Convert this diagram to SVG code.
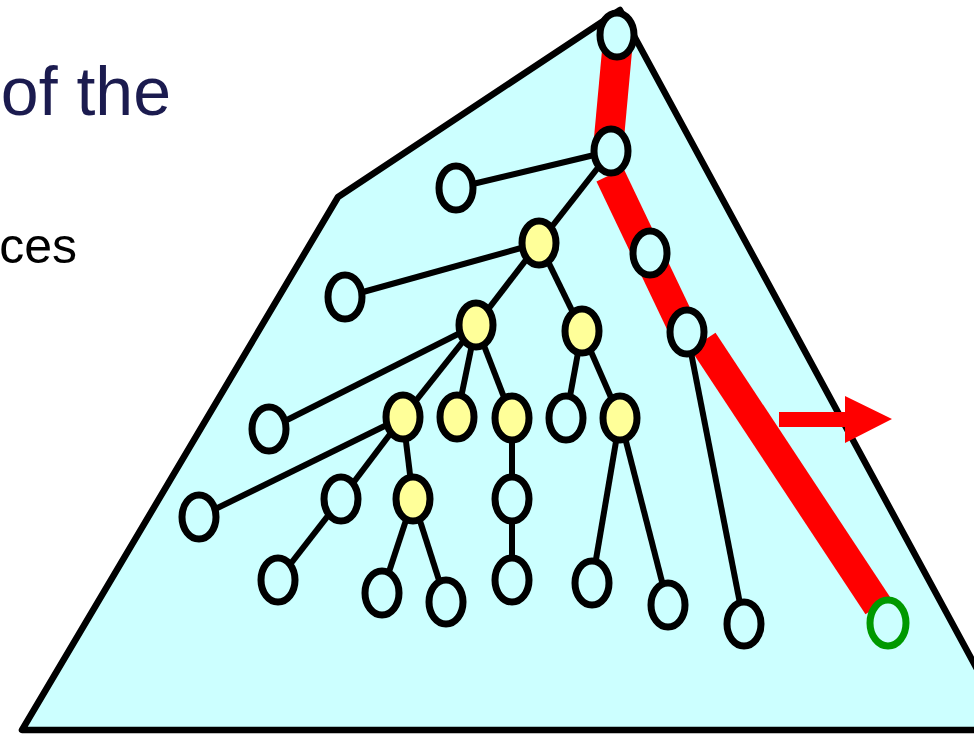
<svg xmlns="http://www.w3.org/2000/svg" width="974" height="734" viewBox="0 0 974 734">
<style>
.n{stroke:#000;stroke-width:7;fill:#CCFFFF}
.y{fill:#FFFF99}
.g{stroke:#009900;fill:#CCFFFF;stroke-width:7}
.e{stroke:#000;stroke-width:6;fill:none}
.r{stroke:#FF0000;stroke-width:30;fill:none;stroke-linecap:butt}
</style>
<rect width="974" height="734" fill="#fff"/>
<text x="171" y="115" font-family="Liberation Sans, Arial, sans-serif" font-size="68" fill="#1B1B4F" text-anchor="end">of the</text>
<text x="77" y="263" font-family="Liberation Sans, Arial, sans-serif" font-size="50" fill="#000" text-anchor="end">ces</text>
<polygon id="tree" points="620,10 338,197 22,730 1010,730" fill="#CCFFFF" stroke="#000" stroke-width="6.5" stroke-linejoin="round"/>
<g id="path">
<line class="r" x1="618" y1="40" x2="609" y2="138"/>
<line class="r" x1="610" y1="175" x2="684" y2="330"/>
<line class="r" x1="703" y1="341" x2="878" y2="606"/>
</g>
<g id="edges">
<line class="e" x1="611" y1="151" x2="456" y2="188"/>
<line class="e" x1="611" y1="151" x2="539" y2="243"/>
<line class="e" x1="539" y1="243" x2="345" y2="297"/>
<line class="e" x1="539" y1="243" x2="476" y2="325"/>
<line class="e" x1="539" y1="243" x2="582" y2="331"/>
<line class="e" x1="476" y1="325" x2="269" y2="429"/>
<line class="e" x1="476" y1="325" x2="403" y2="417"/>
<line class="e" x1="476" y1="325" x2="457" y2="417"/>
<line class="e" x1="476" y1="325" x2="512" y2="418"/>
<line class="e" x1="582" y1="331" x2="566" y2="418"/>
<line class="e" x1="582" y1="331" x2="620" y2="418"/>
<line class="e" x1="403" y1="417" x2="199" y2="517"/>
<line class="e" x1="403" y1="417" x2="341" y2="499"/>
<line class="e" x1="403" y1="417" x2="413" y2="499"/>
<line class="e" x1="512" y1="418" x2="512" y2="499"/>
<line class="e" x1="341" y1="499" x2="278" y2="580"/>
<line class="e" x1="413" y1="499" x2="382" y2="593"/>
<line class="e" x1="413" y1="499" x2="446" y2="602"/>
<line class="e" x1="512" y1="499" x2="512" y2="580"/>
<line class="e" x1="620" y1="418" x2="592" y2="583"/>
<line class="e" x1="620" y1="418" x2="668" y2="605"/>
<line class="e" x1="687" y1="332" x2="744" y2="624"/>
</g>
<g id="n1"><ellipse class="n" cx="617" cy="35" rx="17" ry="22"/></g>
<g id="n2"><ellipse class="n" cx="611" cy="151" rx="17" ry="22"/></g>
<g id="n3"><ellipse class="n" cx="456" cy="188" rx="17" ry="22"/></g>
<g id="n4"><ellipse class="n y" cx="539" cy="243" rx="17" ry="22"/></g>
<g id="n5"><ellipse class="n" cx="650" cy="253" rx="17" ry="22"/></g>
<g id="n6"><ellipse class="n" cx="345" cy="297" rx="17" ry="22"/></g>
<g id="n7"><ellipse class="n y" cx="476" cy="325" rx="17" ry="22"/></g>
<g id="n8"><ellipse class="n y" cx="582" cy="331" rx="17" ry="22"/></g>
<g id="n9"><ellipse class="n" cx="687" cy="332" rx="17" ry="22"/></g>
<g id="n10"><ellipse class="n" cx="269" cy="429" rx="17" ry="22"/></g>
<g id="n11"><ellipse class="n y" cx="403" cy="417" rx="17" ry="22"/></g>
<g id="n12"><ellipse class="n y" cx="457" cy="417" rx="17" ry="22"/></g>
<g id="n13"><ellipse class="n y" cx="512" cy="418" rx="17" ry="22"/></g>
<g id="n14"><ellipse class="n" cx="566" cy="418" rx="17" ry="22"/></g>
<g id="n15"><ellipse class="n y" cx="620" cy="418" rx="17" ry="22"/></g>
<g id="n16"><ellipse class="n" cx="199" cy="517" rx="17" ry="22"/></g>
<g id="n17"><ellipse class="n" cx="341" cy="499" rx="17" ry="22"/></g>
<g id="n18"><ellipse class="n y" cx="413" cy="499" rx="17" ry="22"/></g>
<g id="n19"><ellipse class="n" cx="512" cy="499" rx="17" ry="22"/></g>
<g id="n20"><ellipse class="n" cx="278" cy="580" rx="17" ry="22"/></g>
<g id="n21"><ellipse class="n" cx="382" cy="593" rx="17" ry="22"/></g>
<g id="n22"><ellipse class="n" cx="446" cy="602" rx="17" ry="22"/></g>
<g id="n23"><ellipse class="n" cx="512" cy="580" rx="17" ry="22"/></g>
<g id="n24"><ellipse class="n" cx="592" cy="583" rx="17" ry="22"/></g>
<g id="n25"><ellipse class="n" cx="668" cy="605" rx="17" ry="22"/></g>
<g id="n26"><ellipse class="n" cx="744" cy="624" rx="17" ry="22"/></g>
<g id="n27"><ellipse class="g" cx="888" cy="623" rx="18" ry="23"/></g>
<g id="arrow"><polygon points="779,412 845,412 845,396 892,419 845,443 845,427 779,427" fill="#FF0000"/></g>
</svg>
